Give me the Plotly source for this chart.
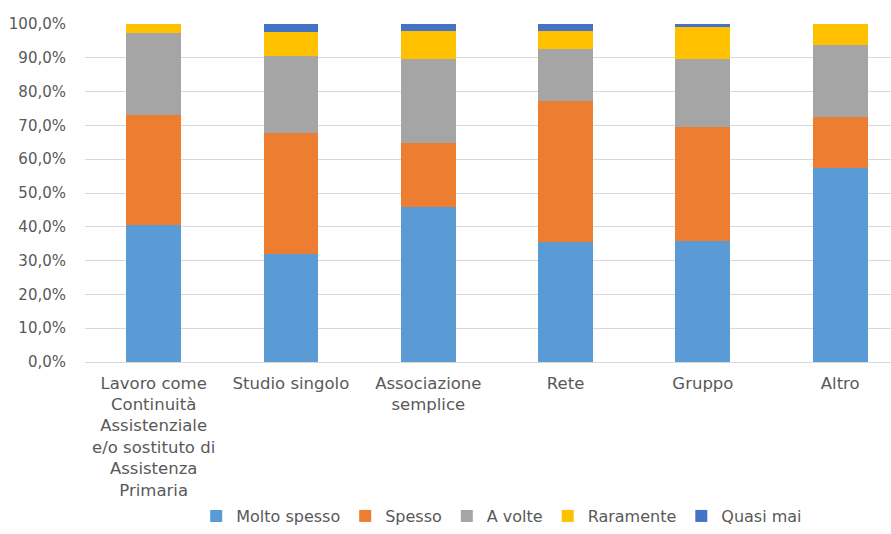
import plotly.graph_objects as go

categories = [
    "Lavoro come<br>Continuità<br>Assistenziale<br>e/o sostituto di<br>Assistenza<br>Primaria",
    "Studio singolo",
    "Associazione<br>semplice",
    "Rete",
    "Gruppo",
    "Altro",
]

# Percent share of each answer per category
molto_spesso = [40.5, 32.1, 45.8, 35.5, 35.7, 57.4]
spesso       = [32.5, 35.6, 18.9, 41.8, 33.7, 15.0]
a_volte      = [24.3, 22.9, 25.0, 15.4, 20.1, 21.3]
raramente    = [2.7, 7.0, 8.3, 5.3, 9.5, 6.3]
quasi_mai    = [0.0, 2.4, 2.0, 2.0, 1.0, 0.0]

series = [
    ("Molto spesso", molto_spesso, "#5B9BD5"),
    ("Spesso", spesso, "#ED7D31"),
    ("A volte", a_volte, "#A5A5A5"),
    ("Raramente", raramente, "#FFC000"),
    ("Quasi mai", quasi_mai, "#4472C4"),
]

FONT = "DejaVu Sans"
TEXT = "#595959"

fig = go.Figure()
for name, vals, color in series:
    fig.add_trace(go.Bar(
        name=name,
        x=list(range(len(categories))),
        y=[v / 100 for v in vals],
        marker=dict(color=color, line=dict(width=0)),
        hoverinfo="skip",
    ))

fig.update_layout(
    barmode="stack",
    bargap=0.6,
    width=891,
    height=534,
    margin=dict(l=85, r=0, t=24, b=172, autoexpand=False),
    paper_bgcolor="white",
    plot_bgcolor="white",
    separators=",.",
    font=dict(family=FONT, size=16, color=TEXT),
    showlegend=True,
    legend=dict(
        orientation="h",
        x=0.517, xanchor="center",
        y=-0.506, yanchor="bottom",
        font=dict(family=FONT, size=16, color=TEXT),
        traceorder="normal",
        itemwidth=30,
        borderwidth=0,
    ),
    xaxis=dict(
        tickmode="array",
        tickvals=list(range(len(categories))),
        ticktext=categories,
        range=[-0.5, 5.37],
        showgrid=False,
        zeroline=False,
        showline=False,
        ticks="",
        automargin=False,
        tickfont=dict(family=FONT, size=16.5, color=TEXT),
        ticklabelstandoff=9,
    ),
    yaxis=dict(
        range=[0, 1],
        dtick=0.1,
        tickformat=".1%",
        showgrid=True,
        gridcolor="#D9D9D9",
        gridwidth=1.3,
        zeroline=True,
        zerolinecolor="#D9D9D9",
        zerolinewidth=1.3,
        showline=False,
        ticks="",
        automargin=False,
        tickfont=dict(family=FONT, size=15, color=TEXT),
        ticklabelstandoff=18,
    ),
)

fig.write_html("out.html")
